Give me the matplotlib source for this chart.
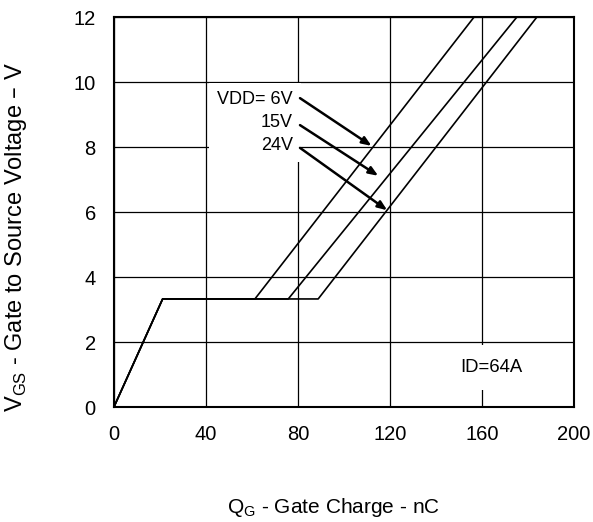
import numpy as np
import matplotlib
matplotlib.use('Agg')
import matplotlib.pyplot as plt

plt.rcParams['font.family'] = ['Liberation Sans', 'DejaVu Sans']
plt.rcParams['axes.linewidth'] = 1.5
plt.rcParams['axes.unicode_minus'] = False

# gate charge curves
vdd_labels = ['6V', '15V', '24V']
qg_plateau_start = 21.2
vgs_plateau = 3.33
qg_plateau_end = [61.3, 75.8, 88.8]
qg_top = [156.5, 175.1, 183.8]
vgs_top = 12.0

# where each arrow points on its curve
arrow_tip_q = [112.0, 114.9, 118.8]
arrow_tip_v = [8.04, 7.12, 6.06]
arrow_tail_v = [9.51, 8.68, 7.98]
arrow_tail_q = 80.9

fig = plt.figure(figsize=(5.93, 5.22), dpi=100)
ax = fig.add_axes([0.192, 0.220, 0.776, 0.747])

for i in range(len(vdd_labels)):
    q = [0, qg_plateau_start, qg_plateau_end[i], qg_top[i]]
    v = [0, vgs_plateau, vgs_plateau, vgs_top]
    ax.plot(q, v, color='black', linewidth=1.2, zorder=3)

ax.set_xlim(0, 200)
ax.set_ylim(0, 12)
ax.set_xticks(np.arange(0, 201, 40))
ax.set_yticks(np.arange(0, 13, 2))
ax.grid(True, color='black', linewidth=0.9)
ax.tick_params(length=0, labelsize=14.5)
ax.tick_params(axis='x', pad=13)
ax.tick_params(axis='y', pad=13)

ax.text(77.8, 8.75, 'VDD= 6V\n15V\n24V', ha='right', va='center',
        multialignment='right', fontsize=13, linespacing=1.45, zorder=2,
        bbox=dict(facecolor='white', edgecolor='none', pad=6))
for i in range(len(vdd_labels)):
    ax.annotate('', xy=(arrow_tip_q[i], arrow_tip_v[i]),
                xytext=(arrow_tail_q, arrow_tail_v[i]),
                arrowprops=dict(arrowstyle='-|>,head_length=0.55,head_width=0.22',
                                color='black', lw=1.8, shrinkA=0, shrinkB=0),
                zorder=4)

ax.text(163.9, 1.23, 'ID=64A', ha='center', va='center', fontsize=13.3,
        zorder=2, bbox=dict(facecolor='white', edgecolor='none', pad=10))

ax.set_xlabel('Q$_\\mathregular{G}$ - Gate Charge - nC', fontsize=15)
ax.set_ylabel('V$_\\mathregular{GS}$ - Gate to Source Voltage \u2013 V', fontsize=17)
ax.xaxis.set_label_coords(0.478, -0.228)
ax.yaxis.set_label_coords(-0.185, 0.435)

plt.savefig('out.png', dpi=100)
